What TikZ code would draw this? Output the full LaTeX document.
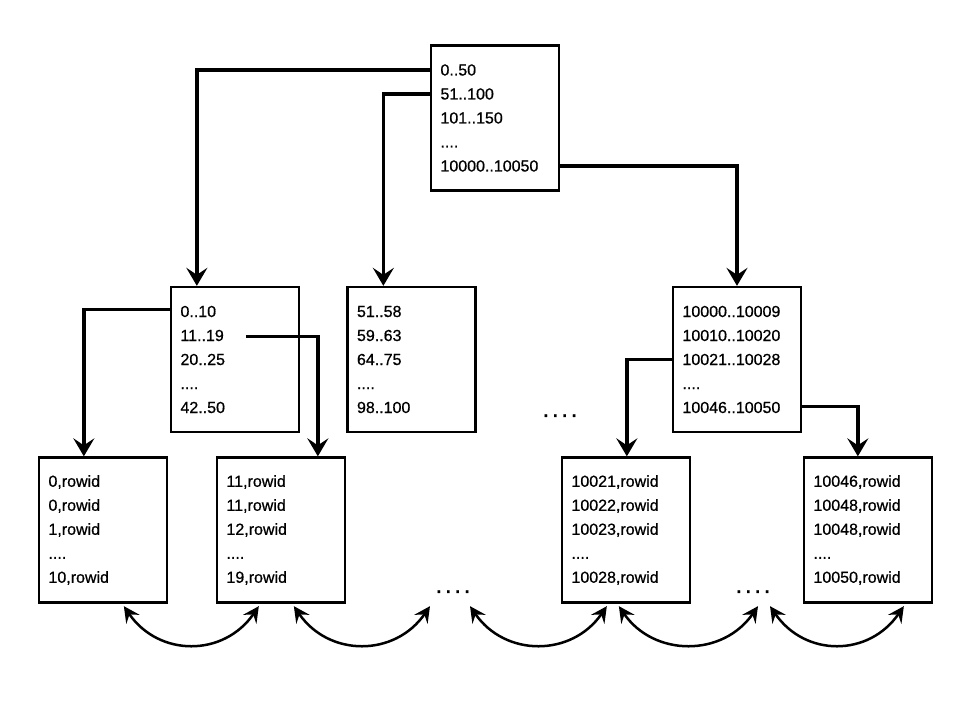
\documentclass[tikz,border=0pt]{standalone}
\usepackage{fontspec}
\setmainfont{Liberation Sans}[FakeBold=0.7]
\usetikzlibrary{arrows.meta,calc}
\begin{document}
\begin{tikzpicture}[x=1pt,y=1pt,
  box/.style={draw,line width=2.3pt,minimum width=128pt,minimum height=145pt,
    inner xsep=9.5pt,inner ysep=0pt,align=left,text width=109pt,
    font=\fontsize{16}{24}\selectfont},
  conn/.style={line width=3.4pt,-{Stealth[length=18pt,width=21pt,inset=7pt]}},
  link/.style={line width=2.5pt,
    {Stealth[length=16pt,width=16pt,inset=6pt]}-{Stealth[length=16pt,width=16pt,inset=6pt]}},
  gap/.style={anchor=base,font=\fontsize{17}{24}\selectfont\bfseries,inner sep=0pt}]
\useasboundingbox (0,0) rectangle (979,709);

% root
\node[box] (root) at (495,591) {0..50\\51..100\\101..150\\....\\10000..10050};
% middle level
\node[box] (A) at (235,349.5) {0..10\\11..19\\20..25\\....\\42..50};
\node[box] (B) at (411.5,349.5) {51..58\\59..63\\64..75\\....\\98..100};
\node[box] (C) at (737,349.5) {10000..10009\\10010..10020\\10021..10028\\....\\10046..10050};
% leaves
\node[box] (L1) at (103,179) {0,rowid\\0,rowid\\1,rowid\\....\\10,rowid};
\node[box] (L2) at (281,179) {11,rowid\\11,rowid\\12,rowid\\....\\19,rowid};
\node[box] (L3) at (626,179) {10021,rowid\\10022,rowid\\10023,rowid\\....\\10028,rowid};
\node[box] (L4) at (868,179) {10046,rowid\\10048,rowid\\10048,rowid\\....\\10050,rowid};
% gaps
\node[gap] (d1) at (560,292) {.\ .\ .\ .};
\node[gap] (d2) at (453,116) {.\ .\ .\ .};
\node[gap] (d3) at (753,116) {.\ .\ .\ .};

% tree connectors
\draw[conn] ([yshift=48]root.west) -| ([xshift=27]A.north west);
\draw[conn] ([yshift=24]root.west) -| ([xshift=37]B.north west);
\draw[conn] ([yshift=-48]root.east) -| (C.north);
\draw[conn] ([yshift=50]A.west) -| ([xshift=46]L1.north west);
\coordinate (a2) at ([xshift=76,yshift=23]A.west);
\draw[conn] (a2) -| ([xshift=102]L2.north west);
\draw[conn] (C.west) -| ([xshift=66]L3.north west);
\draw[conn] ([yshift=-47]C.east) -| ([xshift=55]L4.north west);

% sibling links
\draw[link] ([xshift=86,yshift=-2.5]L1.south west) .. controls +(35,-51) and +(-35,-51) .. ([xshift=43,yshift=-2.5]L2.south west);
\draw[link] ([xshift=78,yshift=-2.5]L2.south west) .. controls +(35,-51) and +(-35,-51) .. ($(d2.center |- L2.south)+(-23,-2.5)$);
\draw[link] ($(d2.center |- L2.south)+(17,-2.5)$) .. controls +(35,-51) and +(-35,-51) .. ([xshift=46,yshift=-2.5]L3.south west);
\draw[link] ([xshift=58,yshift=-2.5]L3.south west) .. controls +(35,-51) and +(-35,-51) .. ($(d3.center |- L3.south)+(5,-2.5)$);
\draw[link] ($(d3.center |- L3.south)+(17,-2.5)$) .. controls +(35,-51) and +(-35,-51) .. ([xshift=101,yshift=-2.5]L4.south west);
\end{tikzpicture}
\end{document}
